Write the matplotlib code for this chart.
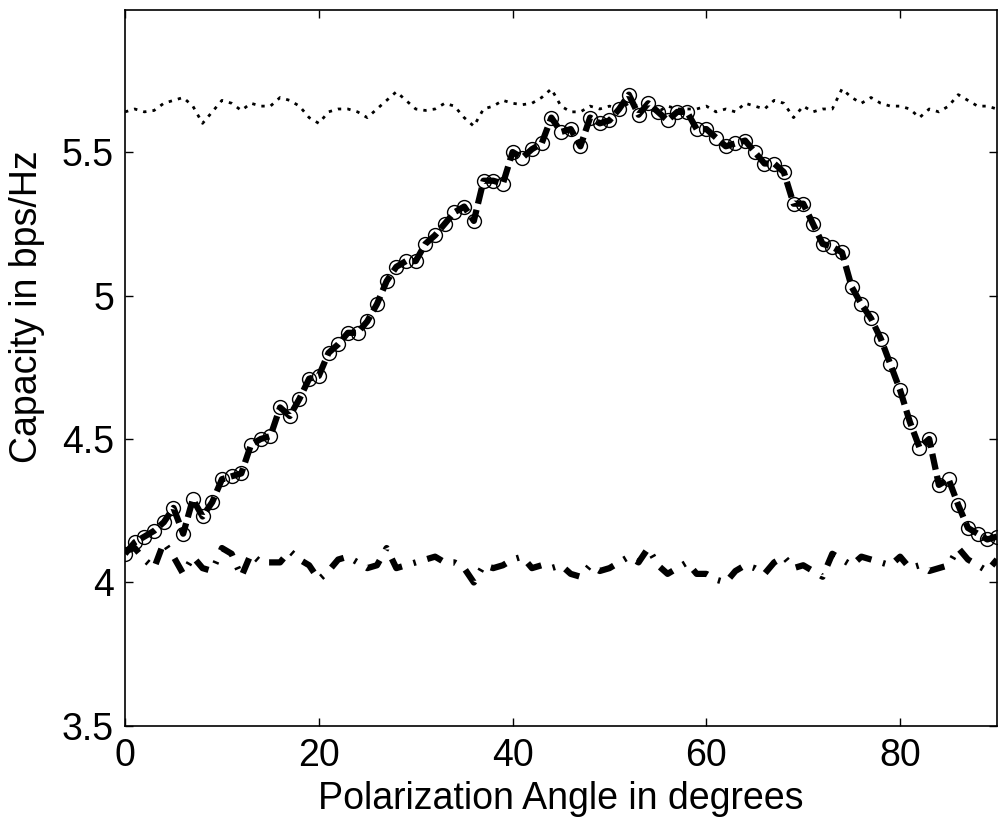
import numpy as np
import matplotlib
matplotlib.use("Agg")
import matplotlib.pyplot as plt

plt.rcParams['font.family'] = ['Liberation Sans', 'DejaVu Sans']

# polarization angle, 1 degree steps
angle = np.arange(0, 91)

# capacity (bps/Hz)
cap_top = [5.64, 5.65, 5.64, 5.645, 5.67, 5.68, 5.69, 5.66, 5.60, 5.64,
           5.68, 5.67, 5.645, 5.67, 5.66, 5.66, 5.69, 5.68, 5.66, 5.62,
           5.60, 5.64, 5.65, 5.65, 5.64, 5.62, 5.65, 5.68, 5.71, 5.68,
           5.65, 5.645, 5.65, 5.67, 5.66, 5.62, 5.59, 5.65, 5.66, 5.68,
           5.67, 5.665, 5.67, 5.69, 5.72, 5.66, 5.64, 5.64, 5.66, 5.65,
           5.66, 5.65, 5.67, 5.66, 5.65, 5.64, 5.66, 5.65, 5.65, 5.65,
           5.66, 5.64, 5.65, 5.64, 5.67, 5.66, 5.65, 5.68, 5.67, 5.62,
           5.66, 5.64, 5.65, 5.65, 5.72, 5.69, 5.67, 5.69, 5.67, 5.66,
           5.66, 5.65, 5.62, 5.65, 5.64, 5.66, 5.70, 5.68, 5.66, 5.66,
           5.65]

cap_mid = [4.10, 4.14, 4.16, 4.18, 4.21, 4.26, 4.17, 4.29, 4.23, 4.28,
           4.36, 4.37, 4.38, 4.48, 4.50, 4.51, 4.61, 4.58, 4.64, 4.71,
           4.72, 4.80, 4.83, 4.87, 4.87, 4.91, 4.97, 5.05, 5.10, 5.12,
           5.12, 5.18, 5.21, 5.25, 5.29, 5.31, 5.26, 5.40, 5.40, 5.39,
           5.50, 5.48, 5.51, 5.53, 5.62, 5.57, 5.58, 5.52, 5.62, 5.60,
           5.61, 5.65, 5.70, 5.63, 5.67, 5.64, 5.61, 5.64, 5.64, 5.58,
           5.58, 5.55, 5.52, 5.53, 5.54, 5.50, 5.46, 5.46, 5.43, 5.32,
           5.32, 5.25, 5.18, 5.17, 5.15, 5.03, 4.97, 4.92, 4.85, 4.76,
           4.67, 4.56, 4.47, 4.50, 4.34, 4.36, 4.27, 4.19, 4.17, 4.15,
           4.16]

cap_low = [4.11, 4.12, 4.08, 4.05, 4.14, 4.09, 4.03, 4.09, 4.05, 4.04,
           4.12, 4.10, 4.02, 4.10, 4.07, 4.07, 4.07, 4.11, 4.08, 4.06,
           4.01, 4.04, 4.08, 4.09, 4.07, 4.05, 4.06, 4.12, 4.05, 4.06,
           4.07, 4.08, 4.09, 4.07, 4.07, 4.05, 4.00, 4.06, 4.05, 4.06,
           4.08, 4.09, 4.05, 4.06, 4.05, 4.06, 4.03, 4.02, 4.06, 4.04,
           4.05, 4.07, 4.09, 4.07, 4.12, 4.06, 4.03, 4.05, 4.07, 4.03,
           4.03, 4.01, 4.00, 4.04, 4.06, 4.05, 4.03, 4.07, 4.09, 4.05,
           4.06, 4.04, 4.02, 4.10, 4.08, 4.06, 4.09, 4.08, 4.07, 4.06,
           4.09, 4.05, 4.06, 4.04, 4.05, 4.06, 4.12, 4.08, 4.06, 4.04,
           4.08]

x_ticks = [0, 20, 40, 60, 80]
y_ticks = [3.5, 4, 4.5, 5, 5.5]

fig = plt.figure(figsize=(9.98, 8.19), dpi=100)
ax = fig.add_axes([0.1253, 0.1136, 0.8737, 0.8742])

ax.plot(angle, cap_top, color='black', linewidth=2.0, linestyle=(0, (1.2, 2.2)))
ax.plot(angle, cap_low, color='black', linewidth=4.5, linestyle=(0, (2.6, 1.9, 0.4, 1.9)))
ax.plot(angle, cap_mid, color='black', linewidth=4.5, linestyle=(0, (2.6, 1.0)),
        marker='o', markersize=10, markerfacecolor='none',
        markeredgecolor='black', markeredgewidth=1.0)

ax.set_xlim(0, 90)
ax.set_ylim(3.5, 5.995)
ax.set_xticks(x_ticks)
ax.set_yticks(y_ticks)
ax.set_yticklabels(['3.5', '4', '4.5', '5', '5.5'])
ax.tick_params(direction='in', length=6, width=1.0, top=True, right=True,
               labelsize=27)
ax.tick_params(axis='x', pad=9)
ax.tick_params(axis='y', pad=8)
for s in ax.spines.values():
    s.set_linewidth(1.2)

ax.set_xlabel('Polarization Angle in degrees', fontsize=27, labelpad=5)
ax.set_ylabel('Capacity in bps/Hz', fontsize=27)
ax.yaxis.set_label_coords(-0.092, 0.585)

fig.savefig('out.png', dpi=100)
